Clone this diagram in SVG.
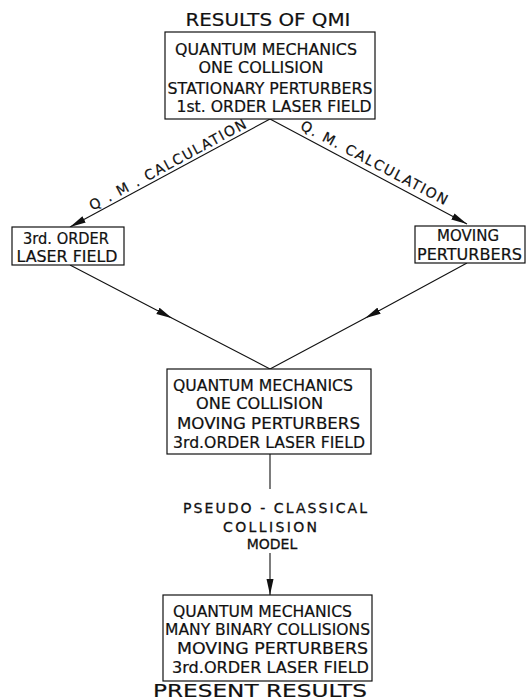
<svg xmlns="http://www.w3.org/2000/svg" width="526" height="700" viewBox="0 0 526 700">
<style>
text{font-family:"DejaVu Sans","Liberation Sans",sans-serif;fill:#111;stroke:#111;stroke-width:0.2;text-anchor:middle}
.t{font-size:18px}
.b{font-size:15px}
.s{font-size:14px}
.l{font-size:14px;stroke-width:0.3}
rect{fill:#fff;stroke:#111;stroke-width:1.2}
.c line,.c polyline{stroke:#111;stroke-width:1.1;fill:none}
</style>
<defs>
<marker id="ah" viewBox="0 0 16 8" refX="16" refY="4" markerWidth="16" markerHeight="8" markerUnits="userSpaceOnUse" orient="auto">
<path d="M0,0.5 L16,4 L0,7.5 Z" fill="#111"/>
</marker>
<marker id="am" viewBox="0 0 16 8" refX="8" refY="4" markerWidth="16" markerHeight="8" markerUnits="userSpaceOnUse" orient="auto">
<path d="M0,0.5 L16,4 L0,7.5 Z" fill="#111"/>
</marker>
</defs>
<g class="c" id="connectors">
<line x1="270" y1="119" x2="70" y2="227" marker-end="url(#ah)"/>
<line x1="270" y1="119" x2="467" y2="224" marker-end="url(#ah)"/>
<polyline points="70,265 165,314.5 270,369" marker-mid="url(#am)"/>
<polyline points="467,263 372,314.5 270,369" marker-mid="url(#am)"/>
<line x1="270" y1="454" x2="270" y2="489"/>
<line x1="270" y1="553" x2="270" y2="595" marker-end="url(#ah)"/>
<text class="s" transform="translate(170,169) rotate(-28.4)" textLength="176" lengthAdjust="spacing">Q . M .  CALCULATION</text>
<text class="s" transform="translate(372,167) rotate(27.8)" textLength="164" lengthAdjust="spacing">Q. M. CALCULATION</text>
<text class="l" x="275" y="513" textLength="184" lengthAdjust="spacing">PSEUDO - CLASSICAL</text>
<text class="l" x="270" y="532" textLength="94" lengthAdjust="spacing">COLLISION</text>
<text class="l" x="272" y="549">MODEL</text>
</g>
<g id="title-top">
<text class="t" x="268" y="26" textLength="165" lengthAdjust="spacingAndGlyphs">RESULTS OF QMI</text>
</g>
<g id="node-qmi">
<rect x="165" y="32" width="210" height="87"/>
<text class="b" x="266" y="55" textLength="182" lengthAdjust="spacingAndGlyphs">QUANTUM MECHANICS</text>
<text class="b" x="261" y="73" textLength="125" lengthAdjust="spacingAndGlyphs">ONE COLLISION</text>
<text class="b" x="270" y="94" textLength="205" lengthAdjust="spacingAndGlyphs">STATIONARY PERTURBERS</text>
<text class="b" x="274" y="112" textLength="195" lengthAdjust="spacingAndGlyphs">1st. ORDER LASER FIELD</text>
</g>
<g id="node-3rd">
<rect x="12" y="227" width="112" height="38"/>
<text class="b" x="66" y="244" textLength="86" lengthAdjust="spacingAndGlyphs">3rd. ORDER</text>
<text class="b" x="67" y="262" textLength="101" lengthAdjust="spacingAndGlyphs">LASER FIELD</text>
</g>
<g id="node-moving">
<rect x="415" y="226" width="110" height="37"/>
<text class="b" x="468" y="241" textLength="62" lengthAdjust="spacingAndGlyphs">MOVING</text>
<text class="b" x="469.5" y="260" textLength="105" lengthAdjust="spacingAndGlyphs">PERTURBERS</text>
</g>
<g id="node-center">
<rect x="167" y="369" width="204" height="85"/>
<text class="b" x="263" y="391" textLength="180" lengthAdjust="spacingAndGlyphs">QUANTUM MECHANICS</text>
<text class="b" x="259.5" y="409" textLength="127" lengthAdjust="spacingAndGlyphs">ONE COLLISION</text>
<text class="b" x="268.5" y="429" textLength="183" lengthAdjust="spacingAndGlyphs">MOVING PERTURBERS</text>
<text class="b" x="269" y="448" textLength="192" lengthAdjust="spacingAndGlyphs">3rd.ORDER LASER FIELD</text>
</g>
<g id="node-present">
<rect x="163" y="595" width="209" height="86"/>
<text class="b" x="262.5" y="617" textLength="179" lengthAdjust="spacingAndGlyphs">QUANTUM MECHANICS</text>
<text class="b" x="267.5" y="635" textLength="205" lengthAdjust="spacingAndGlyphs">MANY BINARY COLLISIONS</text>
<text class="b" x="272.5" y="654" textLength="191" lengthAdjust="spacingAndGlyphs">MOVING PERTURBERS</text>
<text class="b" x="270.5" y="673" textLength="197" lengthAdjust="spacingAndGlyphs">3rd.ORDER LASER FIELD</text>
</g>
<g id="title-bottom">
<text class="t" x="260" y="697" textLength="214" lengthAdjust="spacingAndGlyphs">PRESENT RESULTS</text>
</g>
</svg>
